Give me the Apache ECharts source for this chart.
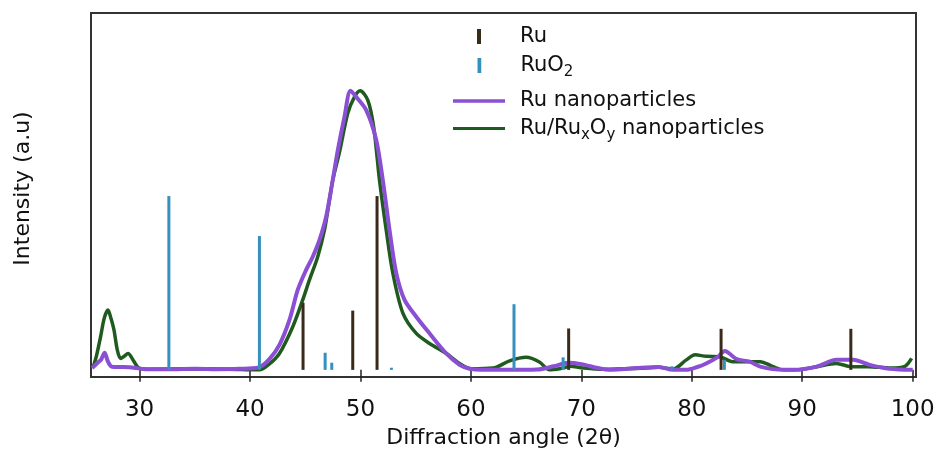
<!DOCTYPE html>
<html>
<head>
    <meta charset="utf-8">
    <script src="https://cdn.jsdelivr.net/npm/echarts@6/dist/echarts.min.js"></script>
</head>
<body style="margin:0;background:#fff">
<div id="main" style="width: 944px;height:457px;"></div>
<script type="text/javascript">
    // x ticks (2 theta)
    const xTicks = [30, 40, 50, 60, 70, 80, 90, 100];

    // reference lines: Ru
    const ruPos = [44.8, 49.3, 51.5, 68.85, 82.65, 94.4];
    const ruInt = [18.8, 16.6, 48.7, 11.6, 11.5, 11.5];

    // reference lines: RuO2
    const ruo2Pos = [32.65, 40.85, 46.8, 47.4, 52.8, 63.9, 68.35, 78.2, 82.95];
    const ruo2Int = [48.7, 37.5, 4.8, 2.0, 0.6, 18.4, 3.5, 1.0, 2.8];

    // measured patterns [2theta, intensity]
    const ruNp = [
        [25.7, 0.5], [26.2, 2.0], [26.5, 2.8], [26.83, 4.8], [27.14, 2.3], [27.5, 0.9], [28.5, 0.8],
        [29.5, 0.6], [30.5, 0.2], [33, 0.2], [35, 0.3], [37, 0.2], [39, 0.3], [40.8, 0.7],
        [41.75, 3.0], [42.66, 7.0], [43.57, 14.0], [44.32, 22.4], [45.08, 28.0], [45.68, 31.7],
        [46.29, 36.4], [46.89, 42.9], [47.49, 53.2], [47.95, 61.6], [48.55, 70.9], [49.1, 78.2],
        [49.61, 76.5], [50.52, 72.8], [51.42, 64.5], [52.02, 53.2], [52.63, 39.2], [53.24, 27.1],
        [53.99, 19.6], [55.05, 14.9], [56.26, 10.2], [57.77, 4.6], [58.97, 1.4], [59.9, 0.3],
        [61, 0], [63, 0], [66, 0.1], [67.5, 1.0], [68.8, 2.0], [70, 1.6], [71.5, 0.5], [72.6, 0],
        [75, 0.5], [77, 0.8], [78.3, 0], [79.5, 0], [80.5, 0.8], [81.3, 1.8], [82.3, 3.5],
        [83.0, 5.3], [84.05, 3.0], [85.25, 2.3], [86.2, 0.9], [88.3, 0], [89.2, 0], [91.3, 0.9],
        [93.1, 2.8], [94.6, 2.8], [96.1, 1.4], [97.9, 0.3], [100, 0]
    ];
    const ruRuxOy = [
        [25.8, 0.8], [26.1, 4], [26.47, 9.3], [26.8, 14.5], [27.14, 16.8], [27.4, 14.5],
        [27.68, 11.2], [27.98, 5.6], [28.28, 3.2], [28.6, 3.8], [28.95, 4.6], [29.5, 2.3],
        [29.95, 0.5], [31, 0.2], [35, 0.3], [38, 0.2], [40.85, 0], [41.7, 1.5], [42.66, 4.6],
        [43.87, 12.1], [44.77, 19.6], [45.38, 25.2], [46.13, 31.7], [46.74, 39.2], [47.19, 47.6],
        [47.49, 53.2], [48.1, 61], [48.85, 71.9], [49.46, 76.5], [49.97, 78.2], [50.66, 75.6],
        [51.2, 68], [51.72, 53.2], [52.33, 39.2], [52.93, 27.1], [53.84, 15.9], [55.05, 10.2],
        [56.26, 7.4], [57.77, 4.6], [58.97, 1.8], [60, 0.3], [62, 0.5], [63.5, 2.5], [65.0, 3.5],
        [66.2, 2.2], [67.1, 0], [68.3, 0.5], [69, 1.0], [70, 0.6], [72, 0.2], [75, 0.4], [77, 0.7],
        [78.3, 0.2], [79.5, 2.8], [80.3, 4.2], [81.3, 3.8], [82.5, 3.7], [83.7, 2.3], [85, 2.3],
        [86.2, 2.3], [87.3, 1.0], [88.3, 0], [89.5, 0], [91.3, 0.9], [93.1, 1.8], [94.4, 0.9],
        [96, 0.9], [98, 0.5], [99.3, 1.0], [99.9, 3.2]
    ];

    const font = 'DejaVu Sans';
    const txt = '#111';
    const purple = '#8a4fd2';
    const green = '#1f5a1f';
    const brown = '#3a2a1a';
    const blue = '#3690bd';

    const myChart = echarts.init(document.getElementById('main'));

    const legendBase = {
        orient: 'vertical',
        left: 453,
        padding: 0,
        itemWidth: 52,
        itemHeight: 15,
        selectedMode: false,
        textStyle: {
            fontFamily: font, fontSize: 21, color: txt, lineHeight: 15,
            padding: [0, 0, 0, 10],
            rich: {
                sub: {fontFamily: font, fontSize: 15, color: txt, lineHeight: 15, padding: [14, 0, 0, 0]}
            }
        }
    };

    const option = {
        animation: false,
        legend: [
            Object.assign({}, legendBase, {top: 26, left: 477, data: [{name: 'Ru', icon: 'path://M0,0h4v15h-4z'}]}),
            Object.assign({}, legendBase, {top: 51, left: 477.5, data: [{name: 'RuO2', icon: 'path://M0,0h3v12h-3z'}],
                formatter: 'RuO{sub|2}'}),
            Object.assign({}, legendBase, {top: 90.5, data: [{name: 'Ru nanoparticles', icon: 'path://M0,0h52v3.5h-52z'}]}),
            Object.assign({}, legendBase, {top: 114, data: [{name: 'Ru/RuxOy nanoparticles', icon: 'path://M0,0h52v3h-52z'}],
                formatter: 'Ru/Ru{sub|x}O{sub|y} nanoparticles'})
        ],
        grid: {
            left: 91, right: 28, top: 13, bottom: 80,
            show: true, borderColor: '#333', borderWidth: 2
        },
        xAxis: {
            type: 'value',
            min: 25.6,
            max: 100.3,
            name: 'Diffraction angle (2θ)',
            nameLocation: 'middle',
            nameGap: 48,
            nameTextStyle: {fontFamily: font, fontSize: 22, color: txt},
            axisLine: {show: false},
            splitLine: {show: false},
            axisTick: {show: true, length: 12, customValues: xTicks, lineStyle: {color: '#222', width: 1.5}},
            axisLabel: {customValues: xTicks, fontFamily: font, fontSize: 23, color: txt, margin: 22}
        },
        yAxis: {
            type: 'value',
            min: -2,
            max: 100,
            name: 'Intensity (a.u)',
            nameLocation: 'middle',
            nameGap: 57,
            nameTextStyle: {fontFamily: font, fontSize: 22, color: txt, padding: [0, 0, 0, 13]},
            axisLine: {show: false},
            axisTick: {show: false},
            axisLabel: {show: false},
            splitLine: {show: false}
        },
        series: [
            {
                name: 'Ru/RuxOy nanoparticles',
                type: 'line',
                data: ruRuxOy,
                smooth: 0.3,
                symbol: 'none',
                z: 2,
                lineStyle: {color: green, width: 3.5},
                itemStyle: {color: green}
            },
            {
                name: 'Ru nanoparticles',
                type: 'line',
                data: ruNp,
                smooth: 0.3,
                symbol: 'none',
                z: 3,
                lineStyle: {color: purple, width: 4},
                itemStyle: {color: purple}
            },
            {
                name: 'Ru',
                type: 'bar',
                data: ruPos.map((p, i) => [p, ruInt[i]]),
                barWidth: 3,
                barGap: '-100%',
                z: 4,
                itemStyle: {color: brown}
            },
            {
                name: 'RuO2',
                type: 'bar',
                data: ruo2Pos.map((p, i) => [p, ruo2Int[i]]),
                barWidth: 3,
                barGap: '-100%',
                z: 4,
                itemStyle: {color: blue}
            }
        ]
    };

    myChart.setOption(option);
</script>
</body>
</html>
